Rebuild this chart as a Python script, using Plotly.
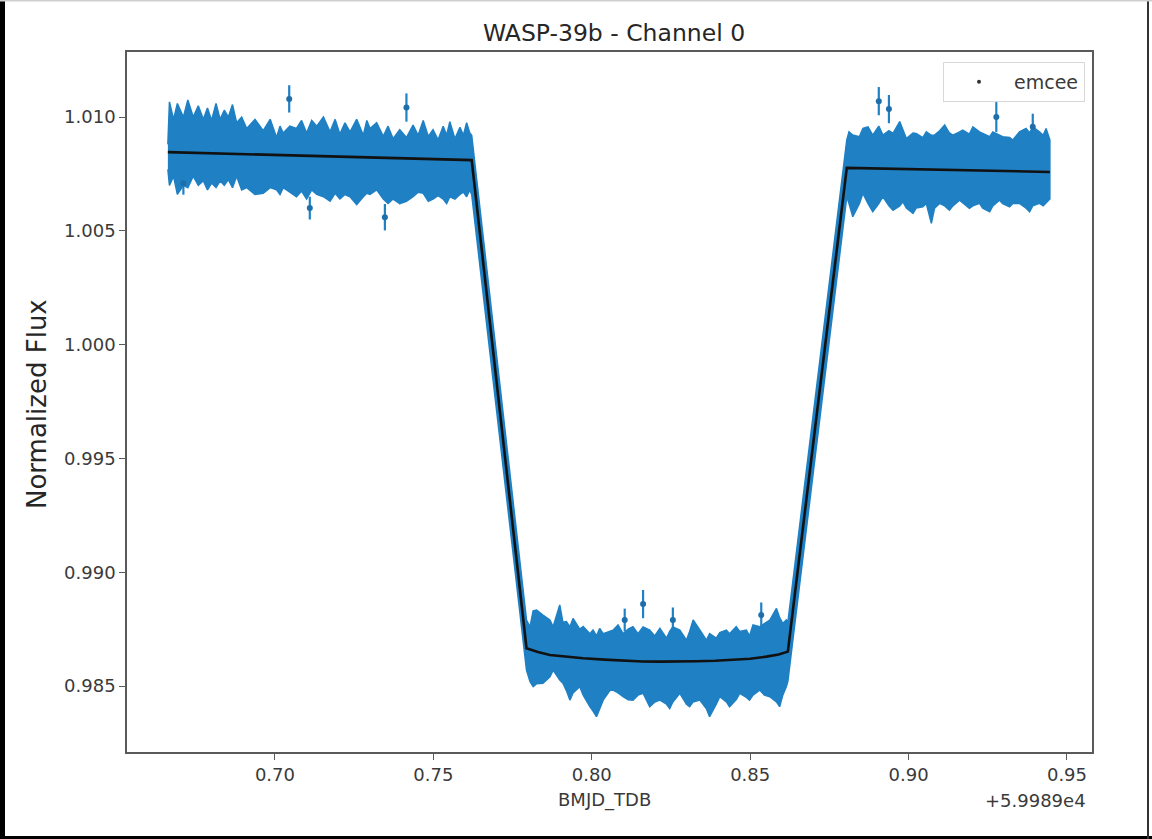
import plotly.graph_objects as go

# Time axis is stored as BMJD_TDB minus this offset
T_OFFSET_LABEL = "+5.9989e4"

# ---- light-curve scatter envelope (upper / lower edge of the data band) ----
pre_t = [0.6662, 0.6667, 0.6680, 0.6692, 0.6711, 0.6725, 0.6742, 0.6758, 0.6774, 0.6787,
         0.6800, 0.6814, 0.6827, 0.6840, 0.6853, 0.6866, 0.6879, 0.6895, 0.6911, 0.6937,
         0.6963, 0.6985, 0.7005, 0.7016, 0.7026, 0.7047, 0.7068, 0.7084, 0.7100, 0.7116,
         0.7132, 0.7153, 0.7174, 0.7190, 0.7205, 0.7221, 0.7237, 0.7258, 0.7279, 0.7290,
         0.7300, 0.7321, 0.7342, 0.7357, 0.7373, 0.7394, 0.7415, 0.7436, 0.7452, 0.7468,
         0.7484, 0.7499, 0.7515, 0.7531, 0.7542, 0.7552, 0.7568, 0.7584, 0.7595, 0.7605,
         0.7615, 0.7621]
pre_hi = [1.00880, 1.01067, 1.00990, 1.01060, 1.01000, 1.01075, 1.01000, 1.01050, 1.00990, 1.01040,
          1.00985, 1.01060, 1.00990, 1.01030, 1.01000, 1.01055, 1.00975, 1.01000, 1.00950, 1.00990,
          1.00940, 1.00990, 1.00910, 1.00960, 1.00930, 1.00960, 1.00950, 1.00985, 1.00930, 1.00985,
          1.00960, 1.01000, 1.00935, 1.00990, 1.00925, 1.00975, 1.00935, 1.00990, 1.00920, 1.00985,
          1.00950, 1.00975, 1.00915, 1.00960, 1.00905, 1.00945, 1.00910, 1.00965, 1.00920, 1.00985,
          1.00915, 1.00945, 1.00900, 1.00960, 1.00920, 1.00980, 1.00905, 1.00955, 1.00920, 1.00975,
          1.00930, 1.00920]
pre_lo = [1.00770, 1.00700, 1.00740, 1.00660, 1.00700, 1.00690, 1.00740, 1.00700, 1.00720, 1.00680,
          1.00710, 1.00690, 1.00720, 1.00700, 1.00725, 1.00690, 1.00740, 1.00680, 1.00690, 1.00660,
          1.00665, 1.00690, 1.00680, 1.00660, 1.00690, 1.00670, 1.00650, 1.00675, 1.00640, 1.00680,
          1.00660, 1.00650, 1.00630, 1.00665, 1.00640, 1.00660, 1.00650, 1.00615, 1.00650, 1.00665,
          1.00660, 1.00680, 1.00640, 1.00620, 1.00640, 1.00620, 1.00630, 1.00650, 1.00670, 1.00665,
          1.00630, 1.00640, 1.00655, 1.00640, 1.00620, 1.00650, 1.00640, 1.00660, 1.00670, 1.00650,
          1.00680, 1.00660]

in_t = [0.7794, 0.7805, 0.7815, 0.7826, 0.7846, 0.7868, 0.7878, 0.7899, 0.7909, 0.7920,
        0.7931, 0.7941, 0.7962, 0.7973, 0.7994, 0.8004, 0.8015, 0.8025, 0.8036, 0.8057,
        0.8067, 0.8083, 0.8099, 0.8115, 0.8130, 0.8146, 0.8162, 0.8183, 0.8199, 0.8215,
        0.8236, 0.8246, 0.8256, 0.8278, 0.8299, 0.8309, 0.8320, 0.8341, 0.8362, 0.8372,
        0.8393, 0.8404, 0.8425, 0.8435, 0.8456, 0.8467, 0.8488, 0.8498, 0.8509, 0.8530,
        0.8545, 0.8562, 0.8583, 0.8593, 0.8603, 0.8614, 0.8619]
in_hi = [0.98790, 0.98760, 0.98830, 0.98834, 0.98812, 0.98790, 0.98760, 0.98856, 0.98780, 0.98783,
         0.98760, 0.98797, 0.98750, 0.98761, 0.98730, 0.98746, 0.98720, 0.98753, 0.98730, 0.98739,
         0.98745, 0.98768, 0.98730, 0.98750, 0.98761, 0.98730, 0.98760, 0.98746, 0.98720, 0.98753,
         0.98710, 0.98740, 0.98760, 0.98746, 0.98702, 0.98740, 0.98790, 0.98746, 0.98702, 0.98730,
         0.98710, 0.98735, 0.98746, 0.98730, 0.98761, 0.98740, 0.98746, 0.98720, 0.98768, 0.98760,
         0.98775, 0.98790, 0.98841, 0.98800, 0.98775, 0.98790, 0.98780]
in_lo = [0.98570, 0.98520, 0.98497, 0.98510, 0.98512, 0.98540, 0.98570, 0.98526, 0.98512, 0.98480,
         0.98438, 0.98470, 0.98497, 0.98460, 0.98409, 0.98390, 0.98365, 0.98400, 0.98438, 0.98480,
         0.98482, 0.98470, 0.98453, 0.98440, 0.98438, 0.98460, 0.98468, 0.98409, 0.98430, 0.98438,
         0.98420, 0.98401, 0.98430, 0.98468, 0.98420, 0.98409, 0.98430, 0.98438, 0.98400, 0.98365,
         0.98420, 0.98453, 0.98430, 0.98409, 0.98440, 0.98468, 0.98450, 0.98438, 0.98460, 0.98482,
         0.98460, 0.98453, 0.98430, 0.98409, 0.98460, 0.98497, 0.98520]

post_t = [0.8805, 0.8812, 0.8824, 0.8845, 0.8856, 0.8872, 0.8887, 0.8906, 0.8919, 0.8938,
          0.8951, 0.8972, 0.8982, 0.8993, 0.9014, 0.9024, 0.9045, 0.9056, 0.9072, 0.9082,
          0.9098, 0.9114, 0.9129, 0.9140, 0.9161, 0.9171, 0.9192, 0.9203, 0.9224, 0.9234,
          0.9256, 0.9266, 0.9287, 0.9297, 0.9319, 0.9329, 0.9350, 0.9371, 0.9382, 0.9392,
          0.9413, 0.9425, 0.9434, 0.9446]
post_hi = [1.00900, 1.00935, 1.00921, 1.00914, 1.00950, 1.00957, 1.00921, 1.00960, 1.00921, 1.00940,
           1.00928, 1.00980, 1.00940, 1.00906, 1.00930, 1.00928, 1.00910, 1.00935, 1.00920, 1.00921,
           1.00940, 1.00965, 1.00930, 1.00921, 1.00935, 1.00943, 1.00925, 1.00957, 1.00935, 1.00928,
           1.00914, 1.00935, 1.00920, 1.00914, 1.00910, 1.00899, 1.00935, 1.00950, 1.00930, 1.00957,
           1.00935, 1.00920, 1.00950, 1.00900]
post_lo = [1.00650, 1.00620, 1.00562, 1.00620, 1.00665, 1.00620, 1.00584, 1.00620, 1.00650, 1.00610,
           1.00591, 1.00610, 1.00628, 1.00600, 1.00577, 1.00600, 1.00606, 1.00620, 1.00533, 1.00600,
           1.00621, 1.00610, 1.00591, 1.00610, 1.00635, 1.00621, 1.00599, 1.00610, 1.00621, 1.00600,
           1.00584, 1.00610, 1.00635, 1.00620, 1.00606, 1.00620, 1.00621, 1.00600, 1.00584, 1.00610,
           1.00621, 1.00610, 1.00621, 1.00640]

# ---- isolated points that stand out from the band ----
out_t = [0.7045, 0.7415, 0.7347, 0.7110, 0.6711, 0.8104, 0.8162, 0.8256, 0.8535,
         0.8906, 0.8938, 0.9277, 0.9392]
out_f = [1.01080, 1.01042, 1.00560, 1.00600, 1.00709, 0.98790, 0.98860, 0.98790, 0.98812,
         1.01070, 1.01035, 1.01000, 1.00957]
out_err = [0.00060, 0.00062, 0.00058, 0.00050, 0.00050, 0.00050, 0.00062, 0.00055, 0.00055,
           0.00062, 0.00062, 0.00066, 0.00058]

# ---- best-fit transit model ----
model_t = [0.6662, 0.7621, 0.7794, 0.7830, 0.7868, 0.7920, 0.7973, 0.8040, 0.8100, 0.8160,
           0.8215, 0.8270, 0.8330, 0.8390, 0.8446, 0.8500, 0.8551, 0.8590, 0.8619, 0.8805,
           0.9446]
model_f = [1.00846, 1.00811, 0.98666, 0.98649, 0.98636, 0.98628, 0.98622, 0.98616, 0.98611, 0.98608,
           0.98607, 0.98607, 0.98609, 0.98611, 0.98614, 0.98620, 0.98629, 0.98638, 0.98651, 1.00777,
           1.00759]

x_ticks = [0.70, 0.75, 0.80, 0.85, 0.90, 0.95]
y_ticks = [0.985, 0.990, 0.995, 1.000, 1.005, 1.010]

BLUE = "#1f80c4"
W, H = 1152, 839
ML, MR, MT, MB = 127, 60, 52, 87
PW, PH = W - ML - MR, H - MT - MB


def px(x):
    return (x - ML) / PW


def py(y):
    return (H - MB - y) / PH


fig = go.Figure()

band_x = pre_t + in_t + post_t + post_t[::-1] + in_t[::-1] + pre_t[::-1]
band_y = pre_hi + in_hi + post_hi + post_lo[::-1] + in_lo[::-1] + pre_lo[::-1]
fig.add_trace(go.Scatter(
    x=band_x, y=band_y, mode="lines", fill="toself", fillcolor=BLUE,
    line=dict(color=BLUE, width=1.5), showlegend=False, hoverinfo="skip"))

fig.add_trace(go.Scatter(
    x=out_t, y=out_f, mode="markers",
    marker=dict(color="#1d6eaa", size=6),
    error_y=dict(type="data", array=out_err, color=BLUE, thickness=2.2, width=0),
    showlegend=False))

fig.add_trace(go.Scatter(
    x=model_t, y=model_f, mode="lines",
    line=dict(color="#111111", width=2.6), showlegend=False))

fig.add_trace(go.Scatter(
    x=[None], y=[None], mode="markers", name="emcee",
    marker=dict(color="#333333", size=4)))

axis_common = dict(
    showline=True, linecolor="#5a5a5a", linewidth=1.5, mirror=True,
    ticks="outside", ticklen=6, tickwidth=1.3, tickcolor="#5a5a5a",
    showgrid=False, zeroline=False,
    tickfont=dict(family="DejaVu Sans", size=18, color="#3a3a3a"),
)

fig.update_xaxes(range=[0.6533, 0.9579], tickvals=x_ticks, tickformat=".2f", **axis_common)
fig.update_yaxes(range=[0.98210, 1.01286], tickvals=y_ticks, tickformat=".3f", **axis_common)

border = [
    dict(x0=px(0), x1=px(5), y0=py(H), y1=py(0), fillcolor="#000000"),
    dict(x0=px(0), x1=px(W), y0=py(H), y1=py(H - 3), fillcolor="#000000"),
    dict(x0=px(W - 5), x1=px(W - 3), y0=py(H), y1=py(0), fillcolor="#333333"),
    dict(x0=px(0), x1=px(W), y0=py(1.5), y1=py(0), fillcolor="#cfcfcf"),
]
shapes = [dict(type="rect", xref="paper", yref="paper", line=dict(width=0), layer="above", **b)
          for b in border]

fig.update_layout(
    width=W, height=H,
    margin=dict(l=ML, r=MR, t=MT, b=MB),
    paper_bgcolor="white", plot_bgcolor="white",
    title=dict(text="WASP-39b - Channel 0", xref="container", x=614 / W, xanchor="center",
               yref="container", y=1 - 33 / H, yanchor="middle",
               font=dict(family="DejaVu Sans", size=23.5, color="#262626")),
    legend=dict(x=px(1085), xanchor="right", y=py(62), yanchor="top",
                itemwidth=60,
                bgcolor="white", bordercolor="#d8d8d8", borderwidth=1,
                font=dict(family="DejaVu Sans", size=19, color="#3a3a3a")),
    shapes=shapes,
    annotations=[
        dict(text="Normalized Flux", xref="paper", yref="paper", x=px(37), y=py(404),
             textangle=-90, showarrow=False, xanchor="center", yanchor="middle",
             font=dict(family="DejaVu Sans", size=26, color="#262626")),
        dict(text="BMJD_TDB", xref="paper", yref="paper", x=px(604), y=py(800),
             showarrow=False, xanchor="center", yanchor="middle",
             font=dict(family="DejaVu Sans", size=18, color="#3a3a3a")),
        dict(text=T_OFFSET_LABEL, xref="paper", yref="paper", x=px(1088), y=py(800),
             showarrow=False, xanchor="right", yanchor="middle",
             font=dict(family="DejaVu Sans", size=18, color="#3a3a3a")),
    ],
)

fig.write_html("out.html")
